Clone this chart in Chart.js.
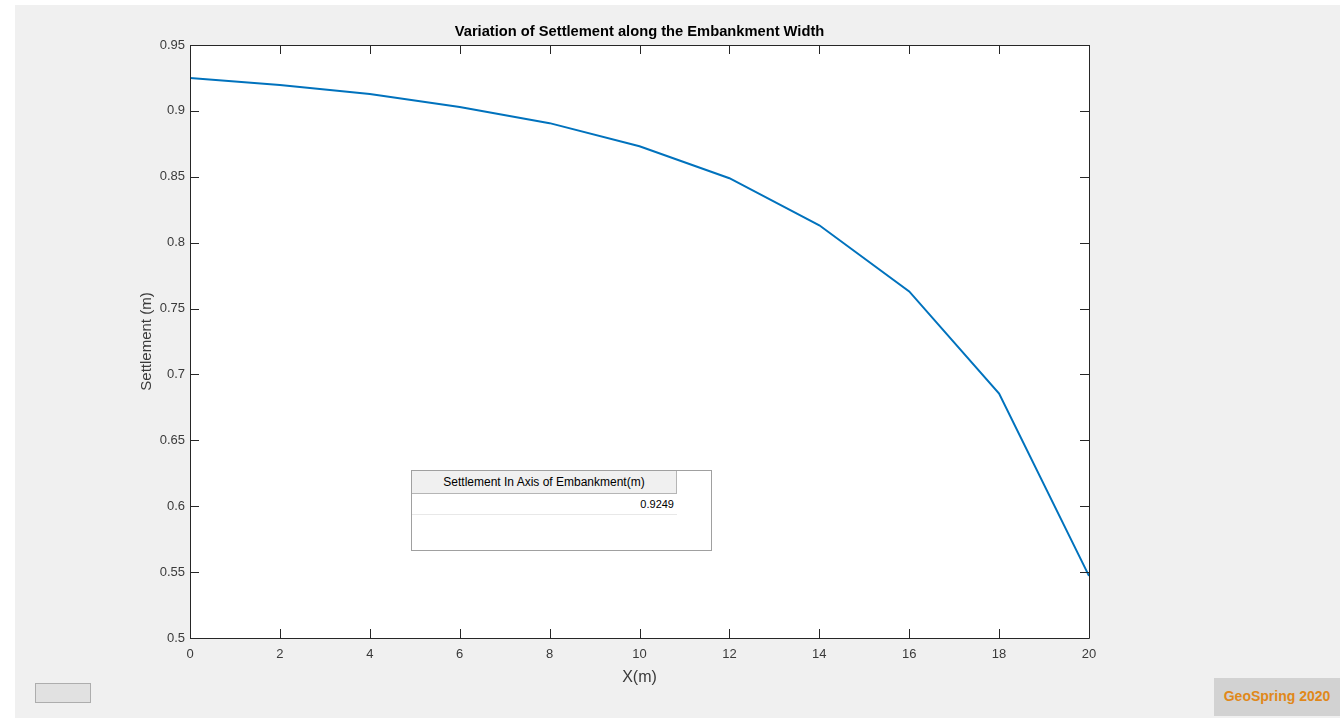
<!DOCTYPE html>
<html>
<head>
<meta charset="utf-8">
<script src="https://cdn.jsdelivr.net/npm/chart.js@4.4.1/dist/chart.umd.min.js"></script>
<style>
  html, body { margin: 0; padding: 0; background: #fff; }
  #wrap { position: relative; width: 1340px; height: 718px; overflow: hidden; }
  #chart { position: absolute; left: 0; top: 0; }
  .tbl { position: absolute; left: 411px; top: 470px; width: 299px; height: 79px; background: #fff; border: 1px solid #a0a0a0; font-family: "Liberation Sans Narrow", "Liberation Sans", Arial, sans-serif; }
  .tbl .head { position: absolute; left: 0; top: 0; width: 264px; height: 22px; background: #f0f0f0; border-right: 1px solid #b5b5b5; border-bottom: 1px solid #b5b5b5; font-size: 12px; line-height: 22px; text-align: center; color: #000; }
  .tbl .cell { position: absolute; left: 0; top: 23px; width: 262px; height: 20px; border-bottom: 1px solid #e8e8e8; font-size: 11px; line-height: 20px; text-align: right; color: #000; padding-right: 3px; }
  .btn { position: absolute; left: 35px; top: 683px; width: 54px; height: 18px; background: #e1e1e1; border: 1px solid #adadad; }
  .brand { position: absolute; left: 1214px; top: 678px; width: 126px; height: 38px; background: #d2d2d2; color: #e0881a; font: bold 14px "Liberation Sans", Arial, sans-serif; line-height: 36px; text-align: center; }
</style>
</head>
<body>
<div id="wrap">
  <canvas id="chart" width="1340" height="718"></canvas>
  <div class="tbl">
    <div class="head">Settlement In Axis of Embankment(m)</div>
    <div class="cell">0.9249</div>
  </div>
  <div class="btn"></div>
  <div class="brand">GeoSpring 2020</div>
</div>
<script>
// Dados
const xValues = [0, 2, 4, 6, 8, 10, 12, 14, 16, 18, 20];
const settlement = [0.9249, 0.9196, 0.9128, 0.9029, 0.8907, 0.8732, 0.8489, 0.8132, 0.7630, 0.6855, 0.5471];
const xTicks = [0, 2, 4, 6, 8, 10, 12, 14, 16, 18, 20];
const yTicks = [0.5, 0.55, 0.6, 0.65, 0.7, 0.75, 0.8, 0.85, 0.9, 0.95];
const chartTitle = 'Variation of Settlement along the Embankment Width';

const axisColor = '#262626';
const labelColor = '#3a3a3a';
const fontFamily = '"Liberation Sans", Arial, sans-serif';

// Fundo da figura (cinza estilo MATLAB) e área branca do gráfico
const backgroundPlugin = {
    id: 'figureBg',
    beforeDraw(chart) {
        const ctx = chart.ctx;
        const a = chart.chartArea;
        ctx.save();
        ctx.fillStyle = '#ffffff';
        ctx.fillRect(0, 0, chart.width, chart.height);
        ctx.fillStyle = '#f0f0f0';
        ctx.fillRect(15, 5, chart.width - 15, chart.height - 5);
        ctx.fillStyle = '#ffffff';
        ctx.fillRect(a.left, a.top, a.right - a.left, a.bottom - a.top);
        ctx.restore();
    }
};

// Caixa, ticks para dentro nos quatro lados e título centrado nos eixos
const boxTicksPlugin = {
    id: 'boxTicks',
    afterDatasetsDraw(chart) {
        const ctx = chart.ctx;
        const a = chart.chartArea;
        const xs = chart.scales.x;
        const ys = chart.scales.y;
        const len = 9;
        ctx.save();
        ctx.strokeStyle = axisColor;
        ctx.lineWidth = 1;
        ctx.beginPath();
        ctx.rect(Math.round(a.left) + 0.5, Math.round(a.top) + 0.5, Math.round(a.right - a.left), Math.round(a.bottom - a.top));
        xTicks.forEach(v => {
            const px = Math.round(xs.getPixelForValue(v)) + 0.5;
            ctx.moveTo(px, a.bottom);
            ctx.lineTo(px, a.bottom - len);
            ctx.moveTo(px, a.top);
            ctx.lineTo(px, a.top + len);
        });
        yTicks.forEach(v => {
            const py = Math.round(ys.getPixelForValue(v)) + 0.5;
            ctx.moveTo(a.left, py);
            ctx.lineTo(a.left + len, py);
            ctx.moveTo(a.right, py);
            ctx.lineTo(a.right - len, py);
        });
        ctx.stroke();

        ctx.fillStyle = '#000';
        ctx.font = 'bold 14.7px ' + fontFamily;
        ctx.textAlign = 'center';
        ctx.textBaseline = 'middle';
        ctx.fillText(chartTitle, (a.left + a.right) / 2, a.top - 13);
        ctx.restore();
    }
};

const ctx = document.getElementById('chart').getContext('2d');
new Chart(ctx, {
    type: 'line',
    data: {
        datasets: [{
            data: xValues.map((x, i) => ({ x: x, y: settlement[i] })),
            borderColor: '#0072BD',
            borderWidth: 2,
            pointRadius: 0,
            tension: 0,
            fill: false
        }]
    },
    options: {
        responsive: false,
        animation: false,
        devicePixelRatio: 1,
        layout: { padding: { left: 0, right: 251, top: 45, bottom: 0 } },
        plugins: {
            legend: { display: false },
            tooltip: { enabled: false },
            title: { display: false }
        },
        scales: {
            x: {
                type: 'linear',
                min: 0,
                max: 20,
                afterBuildTicks: s => { s.ticks = xTicks.map(v => ({ value: v })); },
                afterFit: s => { s.height = 80; },
                grid: { display: false, drawTicks: false },
                border: { display: false },
                ticks: {
                    color: labelColor,
                    padding: 9,
                    maxRotation: 0,
                    font: { family: fontFamily, size: 13 },
                    callback: v => String(v)
                },
                title: {
                    display: true,
                    text: 'X(m)',
                    color: labelColor,
                    font: { family: fontFamily, size: 16, lineHeight: 1.2 },
                    padding: { top: 0, bottom: 31 }
                }
            },
            y: {
                type: 'linear',
                min: 0.5,
                max: 0.95,
                afterBuildTicks: s => { s.ticks = yTicks.map(v => ({ value: v })); },
                afterFit: s => { s.width = 190; },
                grid: { display: false, drawTicks: false },
                border: { display: false },
                ticks: {
                    color: labelColor,
                    padding: 5,
                    font: { family: fontFamily, size: 13 },
                    callback: v => String(+v.toFixed(2))
                },
                title: {
                    display: true,
                    text: 'Settlement (m)',
                    color: labelColor,
                    font: { family: fontFamily, size: 15, lineHeight: 1.2 },
                    padding: { top: 138, bottom: 0 }
                }
            }
        }
    },
    plugins: [backgroundPlugin, boxTicksPlugin]
});
</script>
</body>
</html>
